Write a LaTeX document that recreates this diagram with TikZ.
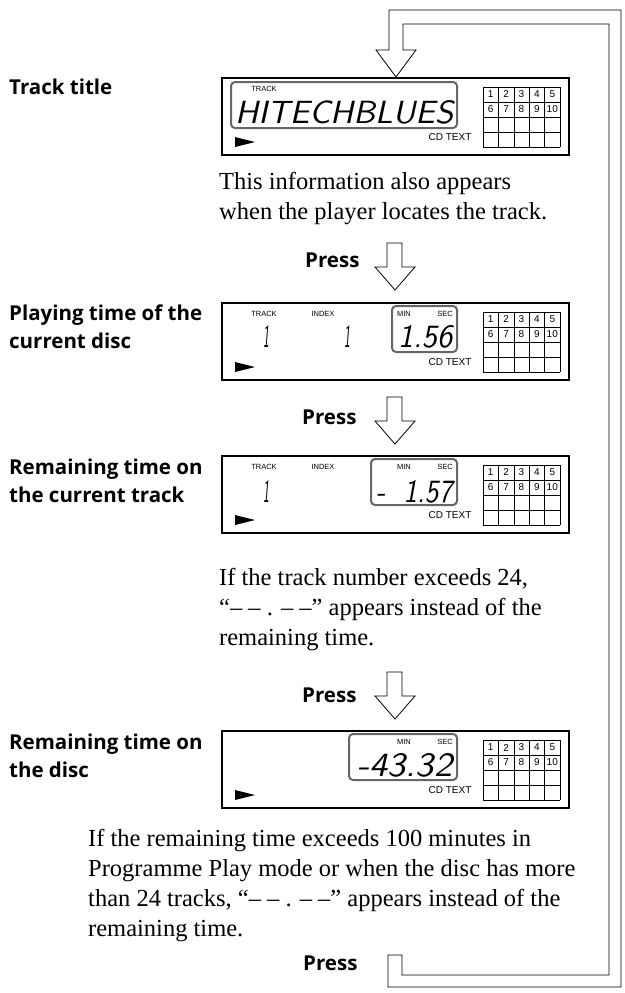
\documentclass[tikz,border=0pt]{standalone}
\usepackage{fontspec}
\setmainfont{Liberation Serif}
\newfontfamily\labfont{Open Sans}
\newfontfamily\lcdsmall{Liberation Sans}
\newfontfamily\segfont{Latin Modern Sans}
\begin{document}
\begin{tikzpicture}[x=1pt,y=-1pt,
  frame/.style={draw=black,line width=1.6pt},
  gbox/.style={draw=black!60,line width=2pt,rounded corners=4pt},
  harr/.style={draw=black,line width=0.8pt,fill=white},
  lab/.style={font=\labfont\bfseries\fontsize{20.5}{28}\selectfont,anchor=base west,align=left,inner sep=0},
  body/.style={font=\fontsize{24.5}{30}\selectfont,anchor=base west,align=left,inner sep=0},
  tiny/.style={font=\lcdsmall\fontsize{7.5}{8}\selectfont,inner sep=0},
  cdt/.style={font=\lcdsmall\fontsize{10}{10}\selectfont,inner sep=0},
  seg/.style={font=\segfont\itshape,inner sep=0,anchor=north west}]
\useasboundingbox (0,0) rectangle (624,993);
\newcommand\hollowarrow[2]{\draw[harr] (#1-8,#2) -- (#1+7,#2) -- (#1+7,#2+24) -- (#1+20,#2+24) -- (#1,#2+47) -- (#1-20,#2+24) -- (#1-8,#2+24) -- cycle;}
\newcommand\segtext[5]{\node[seg] at (#1,#2) {\resizebox{#3pt}{#4pt}{#5}};}
\newcommand\dispbox[1]{%
 \begin{scope}[shift={(0,#1)}]
  \draw[frame] (222,0) rectangle (569,77);
  \foreach \i in {0,...,5}{\draw[line width=0.6pt] (483+15.4*\i,9) -- (483+15.4*\i,69);}
  \foreach \j in {0,...,4}{\draw[line width=0.6pt] (483,9+15*\j) -- (560,9+15*\j);}
  \foreach \n [count=\i from 0] in {1,...,5}{\node[font=\lcdsmall\fontsize{10}{10}\selectfont,inner sep=0] at (490.7+15.4*\i,16.5){\n};}
  \foreach \n [count=\i from 0] in {6,...,10}{\node[font=\lcdsmall\fontsize{10}{10}\selectfont,inner sep=0] at (490.7+15.4*\i,31.5){\n};}
  \fill (235,59) -- (255,64) -- (235,69) -- cycle;
  \node[cdt] at (450,59) {CD TEXT};
 \end{scope}}
% loop arrow
\draw[harr] (388,955) -- (402,955) -- (402,975) -- (609,975) -- (609,24) -- (403,24) -- (403,50) -- (416,50) -- (396,77) -- (376,50) -- (389,50) -- (389,10) -- (621,10) -- (621,987) -- (388,987) -- cycle;
% display 1
\dispbox{78}
\draw[gbox] (231,82) rectangle (457,128);
\node[tiny] at (264,89) {TRACK};
\segtext{235}{100}{218}{23}{HITECHBLUES}
\node[lab] (l1) at (9,94) {Track title};
\node[body] (b1) at (219,219) {This information also appears\\when the player locates the track.};
\node[lab] (p1) at (305,267) {Press};
\hollowarrow{395}{243}
% display 2
\dispbox{303}
\draw[gbox] (392,306) rectangle (457,352);
\node[tiny] at (264,314) {TRACK};
\node[tiny] at (323,314) {INDEX};
\node[tiny] at (404,314) {MIN};
\node[tiny] at (445,314) {SEC};
\segtext{263}{325}{6}{22}{1}
\segtext{344}{325}{6}{22}{1}
\segtext{398}{325}{54}{22}{1.56}
\node[lab] (l2) at (9,348) {Playing time of the\\current disc};
\node[lab] (p2) at (302,424) {Press};
\hollowarrow{395}{397}
% display 3
\dispbox{456}
\draw[gbox] (371,459) rectangle (457,505);
\node[tiny] at (264,467) {TRACK};
\node[tiny] at (323,467) {INDEX};
\node[tiny] at (404,467) {MIN};
\node[tiny] at (445,467) {SEC};
\segtext{263}{480}{6}{22}{1}
\segtext{376}{480}{76}{22}{- \ 1.57}
\node[lab] (l3) at (9,502) {Remaining time on\\the current track};
\node[body] (b3) at (219,645) {If the track number exceeds 24,\\“– – . – –” appears instead of the\\remaining time.};
\node[lab] (p3) at (302,702) {Press};
\hollowarrow{395}{672}
% display 4
\dispbox{731}
\draw[gbox] (349,734) rectangle (457,780);
\node[tiny] at (404,742) {MIN};
\node[tiny] at (445,742) {SEC};
\segtext{357}{753}{95}{23}{-43.32}
\node[lab] (l4) at (9,777) {Remaining time on\\the disc};
\node[body] (b4) at (88,936) {If the remaining time exceeds 100 minutes in\\Programme Play mode or when the disc has more\\than 24 tracks, “– – . – –” appears instead of the\\remaining time.};
\node[lab] (p4) at (303,970) {Press};
\end{tikzpicture}
\end{document}
